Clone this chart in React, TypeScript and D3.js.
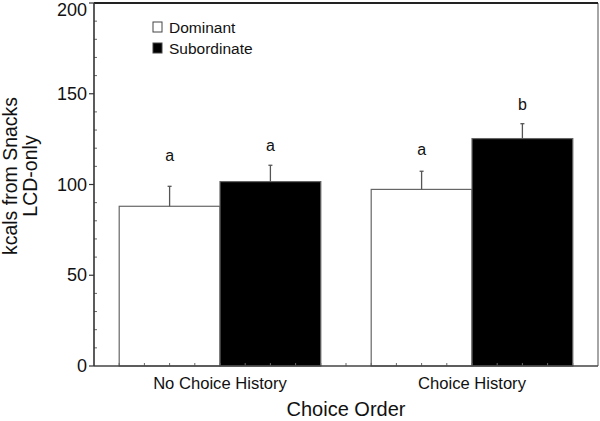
import React from "react";
import * as d3 from "d3";

const categories = ["No Choice History", "Choice History"];
const seriesNames = ["Dominant", "Subordinate"];
const dominantValues = [88, 97.3];
const subordinateValues = [101.6, 125.3];
const dominantErrors = [11, 10];
const subordinateErrors = [9, 8.2];
const dominantLetters = ["a", "a"];
const subordinateLetters = ["a", "b"];
const dominantLetterY = [116, 119.5];
const subordinateLetterY = [121.5, 144];
const yMajorTicks = [0, 50, 100, 150, 200];

const W = 600;
const H = 421;
const m = { left: 94, right: 2, top: 3, bottom: 55 };
const FONT = "'Liberation Sans', Arial, Helvetica, sans-serif";

export default function App() {
  const x0 = d3
    .scaleBand<string>()
    .domain(categories)
    .range([m.left, W - m.right])
    .paddingInner(0.2)
    .paddingOuter(0.1);
  const x1 = d3.scaleBand<string>().domain(seriesNames).range([0, x0.bandwidth()]);
  const y = d3.scaleLinear().domain([0, 200]).range([H - m.bottom, m.top]);
  const xMinor = d3.scaleLinear().domain([0, 20]).range([m.left, W - m.right]);

  const series = [
    { name: "Dominant", values: dominantValues, errors: dominantErrors, letters: dominantLetters, letterY: dominantLetterY, fill: "#fff" },
    { name: "Subordinate", values: subordinateValues, errors: subordinateErrors, letters: subordinateLetters, letterY: subordinateLetterY, fill: "#000" },
  ];

  const minorY = d3.range(0, 201, 10).filter((v) => v % 50 !== 0);
  const minorX = d3.range(1, 20);
  const x0L = m.left;
  const x1R = W - m.right;
  const yB = y(0);
  const yT = y(200);

  return (
    <svg width={W} height={H} style={{ position: "absolute", left: 0, top: 0, background: "#fff" }} fontFamily={FONT}>
      <rect width={W} height={H} fill="#fff" />
      {series.map((s) =>
        categories.map((c, i) => {
          const bx = (x0(c) as number) + (x1(s.name) as number);
          const bw = x1.bandwidth();
          const cx = bx + bw / 2;
          const top = y(s.values[i]);
          const et = y(s.values[i] + s.errors[i]);
          return (
            <g key={s.name + c}>
              <rect x={bx} y={top} width={bw} height={yB - top} fill={s.fill} stroke="#666" strokeWidth={1.2} />
              <line x1={cx} x2={cx} y1={top} y2={et} stroke="#555" strokeWidth={1.3} />
              <line x1={cx - 2} x2={cx + 2} y1={et} y2={et} stroke="#555" strokeWidth={1.3} />
              <text x={cx} y={y(s.letterY[i])} fontSize={16} textAnchor="middle" dominantBaseline="central" fill="#111">
                {s.letters[i]}
              </text>
            </g>
          );
        })
      )}
      {minorX.map((t) => (
        <line key={"xm" + t} x1={xMinor(t)} x2={xMinor(t)} y1={yB} y2={yB - 3} stroke="#666" strokeWidth={1} />
      ))}
      {minorY.map((t) => (
        <line key={"ym" + t} x1={x0L} x2={x0L + 3} y1={y(t)} y2={y(t)} stroke="#666" strokeWidth={1} />
      ))}
      {yMajorTicks.map((t) => (
        <g key={"yM" + t}>
          <line x1={x0L - 5} x2={x0L} y1={y(t)} y2={y(t)} stroke="#333" strokeWidth={1.2} />
          <text x={x0L - 7} y={Math.max(y(t), 10)} fontSize={18} textAnchor="end" dominantBaseline="central" fill="#111">
            {t}
          </text>
        </g>
      ))}
      <line x1={x1R} x2={x1R} y1={yT} y2={yB} stroke="#888" strokeWidth={1.5} />
      <line x1={x0L} x2={x1R} y1={yT} y2={yT} stroke="#222" strokeWidth={1.8} />
      <line x1={x0L} x2={x1R} y1={yB} y2={yB} stroke="#444" strokeWidth={1.6} />
      <line x1={x0L} x2={x0L} y1={yT} y2={yB} stroke="#333" strokeWidth={1.6} />
      {categories.map((c) => (
        <text key={c} x={(x0(c) as number) + x0.bandwidth() / 2} y={383} fontSize={16.6} textAnchor="middle" dominantBaseline="central" fill="#111">
          {c}
        </text>
      ))}
      <text x={(m.left + W - m.right) / 2} y={409} fontSize={20} textAnchor="middle" dominantBaseline="central" fill="#111">
        Choice Order
      </text>
      <g transform={`translate(17,${176}) rotate(-90)`}>
        <text x={0} y={0} fontSize={19.5} textAnchor="middle" fill="#111">kcals from Snacks</text>
        <text x={0} y={20} fontSize={19.5} textAnchor="middle" fill="#111">LCD-only</text>
      </g>
      {series.map((s, i) => (
        <g key={"lg" + s.name} transform={`translate(153,${22 + i * 21})`}>
          <rect x={0} y={0} width={9} height={10} fill={s.fill} stroke="#444" strokeWidth={1} />
          <text x={16} y={5} fontSize={15.5} dominantBaseline="central" fill="#111">
            {s.name}
          </text>
        </g>
      ))}
    </svg>
  );
}
